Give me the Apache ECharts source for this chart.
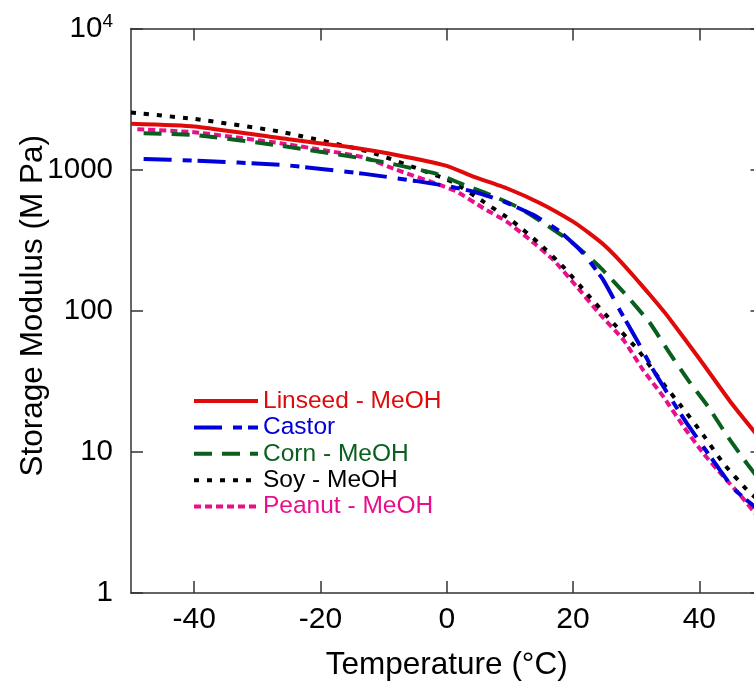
<!DOCTYPE html>
<html>
<head>
<meta charset="utf-8">
<script src="https://cdn.jsdelivr.net/npm/echarts@6/dist/echarts.min.js"></script>
<style>html,body{margin:0;padding:0;background:#fff;}#c{width:754px;height:685px;}</style>
</head>
<body>
<div id="c"></div>
<script>
// ---- data (temperature in °C, storage modulus in MPa) ----
const seriesNames = ['Linseed - MeOH', 'Castor', 'Corn - MeOH', 'Soy - MeOH', 'Peanut - MeOH'];

const linseedT = [-50, -40, -25, -16, -8, 0, 4.2, 9.5, 14.8, 20, 22.5, 25, 27.5, 30, 32.5, 35, 40, 45, 49];
const linseedE = [2110, 2020, 1640, 1456, 1270, 1063, 892, 738, 578, 428, 356, 290, 224, 168, 124.5, 91.2, 45.7, 22.4, 13.4];

const castorT = [-48, -40, -26, -13, -5, 0, 4.2, 8.4, 13.7, 17.9, 21.6, 24.8, 27.4, 30.1, 32.7, 35.3, 38, 40.6, 43.3, 45.4, 49];
const castorE = [1190, 1158, 1080, 933, 832, 766, 699, 610, 478, 364, 255, 165, 101, 62, 38, 24.6, 16, 10.9, 7.4, 5.5, 4.0];

const cornT = [-48, -40, -26, -11, -1.6, 2.1, 6.9, 11.6, 15.8, 20, 24.3, 28.5, 32.2, 35.3, 38.2, 41.4, 44.3, 47.5, 49];
const cornE = [1810, 1762, 1472, 1153, 933, 801, 662, 533, 405, 301, 203, 128, 81.5, 50, 32.4, 20.9, 13.2, 8.3, 6.8];

const soyT = [-50, -40, -26.4, -12.1, -0.8, 1.3, 5.8, 10.3, 14.5, 18.5, 22.4, 26.4, 30.3, 33.8, 37.2, 40.6, 43.8, 47.5, 49];
const soyE = [2535, 2287, 1860, 1330, 880, 801, 593, 435, 304, 204, 129, 81.5, 52.7, 32.4, 20.9, 13.2, 8.3, 5.4, 4.7];

const peanutT = [-49, -40, -26.4, -13.2, -7.9, -1.1, 1.6, 5.8, 9.5, 13.2, 16.9, 20.6, 24.3, 28, 31.1, 34.3, 37.5, 40.6, 43.8, 46.7, 49];
const peanutE = [1932, 1841, 1539, 1224, 995, 779, 698, 533, 428, 318, 229, 148, 94, 62, 38, 24.6, 15.1, 9.8, 6.7, 4.8, 3.6];

const xTicks = [-40, -20, 0, 20, 40];

// ---- chart ----
const zip = (t, e) => t.map((v, i) => [v, e[i]]);
const FONT = '"Liberation Sans", Arial, Helvetica, sans-serif';
const colors = ['#e00a0a', '#0000d8', '#0a5f1e', '#000000', '#e8108a'];
const dashes = ['solid', [28, 11, 9, 6], [18, 10], [5, 8], [7, 4]];
const datasets = [zip(linseedT, linseedE), zip(castorT, castorE), zip(cornT, cornE), zip(soyT, soyE), zip(peanutT, peanutE)];

const chart = echarts.init(document.getElementById('c'), null, {renderer: 'canvas'});

const axisLineStyle = {color: '#333', width: 1.5};

const option = {
  animation: false,
  backgroundColor: '#fff',
  grid: {left: 131, right: -8.5, top: 28.5, bottom: 92, containLabel: false, outerBoundsMode: 'none'},
  legend: {
    orient: 'vertical',
    left: 187,
    top: 383.5,
    itemWidth: 64,
    itemHeight: 24,
    itemGap: 1.4,
    padding: 5,
    itemStyle: {opacity: 0},
    lineStyle: {width: 4},
    textStyle: {fontFamily: FONT, fontSize: 24.5, lineHeight: 24},
    data: seriesNames.map((n, i) => ({name: n, textStyle: {color: colors[i]}}))
  },
  xAxis: [{
    type: 'value', min: -50, max: 50, interval: 10,
    position: 'bottom',
    name: 'Temperature (°C)', nameLocation: 'middle', nameGap: 56, nameMoveOverlap: false,
    nameTextStyle: {fontFamily: FONT, fontSize: 31.5, color: '#000'},
    axisLine: {show: true, onZero: false, lineStyle: axisLineStyle},
    axisTick: {show: true, inside: true, length: 12, lineStyle: axisLineStyle, customValues: xTicks},
    axisLabel: {fontFamily: FONT, fontSize: 30, color: '#000', margin: 12, customValues: xTicks},
    splitLine: {show: false}
  }, {
    type: 'value', min: -50, max: 50, interval: 10,
    position: 'top',
    axisLine: {show: true, onZero: false, lineStyle: axisLineStyle},
    axisTick: {show: true, inside: true, length: 12, lineStyle: axisLineStyle, customValues: xTicks},
    axisLabel: {show: false},
    splitLine: {show: false}
  }],
  yAxis: [{
    type: 'log', logBase: 10, min: 1, max: 10000,
    position: 'left',
    name: 'Storage Modulus (M Pa)', nameLocation: 'middle', nameGap: 82, nameMoveOverlap: false,
    nameTextStyle: {fontFamily: FONT, fontSize: 31.5, color: '#000', padding: [0, 0, 0, 10]},
    axisLine: {show: true, onZero: false, lineStyle: axisLineStyle},
    axisTick: {show: true, inside: true, length: 12, lineStyle: axisLineStyle},
    minorTick: {show: false},
    axisLabel: {
      fontFamily: FONT, fontSize: 29.5, color: '#000', margin: 18,
      formatter: v => (Math.abs(v - 10000) < 1e-6 ? '{b|10}{s|4}' : String(Math.round(v))),
      rich: {
        b: {fontFamily: FONT, fontSize: 29.5, color: '#000'},
        s: {fontFamily: FONT, fontSize: 19, color: '#000', verticalAlign: 'top', padding: [0, 0, 14, 0]}
      }
    },
    splitLine: {show: false}
  }, {
    type: 'log', logBase: 10, min: 1, max: 10000,
    position: 'right',
    axisLine: {show: true, onZero: false, lineStyle: axisLineStyle},
    axisTick: {show: true, inside: true, length: 12, lineStyle: axisLineStyle},
    axisLabel: {show: false},
    splitLine: {show: false}
  }],
  series: seriesNames.map((n, i) => ({
    name: n,
    type: 'line',
    xAxisIndex: 0,
    yAxisIndex: 0,
    data: datasets[i],
    symbol: 'none',
    smooth: 0.15,
    color: colors[i],
    lineStyle: {color: colors[i], width: 4, type: dashes[i], cap: 'butt'},
    z: 10 - i
  }))
};
chart.setOption(option);
</script>
</body>
</html>
